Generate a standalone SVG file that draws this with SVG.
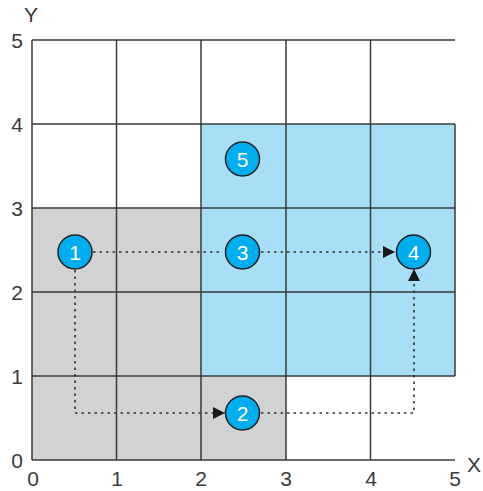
<svg xmlns="http://www.w3.org/2000/svg" width="483" height="491" viewBox="0 0 483 491">
<defs>
<style>
.grid{stroke:#3a3a3a;stroke-width:1.5;fill:none}
.lbl{font-family:"Liberation Sans",Arial,sans-serif;font-size:21px;fill:#3a3a3a;text-anchor:middle}
.node circle{fill:#00aeef;stroke:#222;stroke-width:1.5}
.node text{font-family:"Liberation Sans",Arial,sans-serif;font-size:21px;fill:#fff;text-anchor:middle}
.conn{stroke:#333;stroke-width:1.6;fill:none;stroke-dasharray:2.5 4}
</style>
<marker id="arr" viewBox="0 0 10 10" refX="10" refY="5" markerWidth="12" markerHeight="12" markerUnits="userSpaceOnUse" orient="auto">
<path d="M0,0 L10,5 L0,10 Z" fill="#1a1a1a"/>
</marker>
</defs>
<rect width="483" height="491" fill="#fff"/>
<g id="regions">
<path d="M32,460 H286 V376 H201 V208 H32 Z" fill="#d1d2d4"/>
<rect x="201" y="124" width="254" height="252" fill="#a9def7"/>
</g>
<g id="grid" class="grid">
<path d="M32,40 H455 M32,124 H455 M32,208 H455 M32,292 H455 M32,376 H455 M32,460 H455"/>
<path d="M32,40 V460 M116.5,40 V460 M201,40 V460 M286,40 V460 M370.5,40 V460 M455,124 V376"/>
</g>
<g id="axis-labels">
<text class="lbl" x="31" y="22">Y</text>
<text class="lbl" x="474" y="472">X</text>
<text class="lbl" x="17" y="48">5</text>
<text class="lbl" x="17" y="132">4</text>
<text class="lbl" x="17" y="216">3</text>
<text class="lbl" x="17" y="300">2</text>
<text class="lbl" x="17" y="384">1</text>
<text class="lbl" x="17" y="468">0</text>
<text class="lbl" x="33" y="486">0</text>
<text class="lbl" x="117" y="486">1</text>
<text class="lbl" x="201" y="486">2</text>
<text class="lbl" x="286" y="486">3</text>
<text class="lbl" x="371" y="486">4</text>
<text class="lbl" x="455" y="486">5</text>
</g>
<g id="connectors">
<path class="conn" d="M93,252 H223"/>
<path class="conn" d="M261,252 H395" marker-end="url(#arr)"/>
<path class="conn" d="M75,270 V413 H225" marker-end="url(#arr)"/>
<path class="conn" d="M261,413 H414 V269" marker-end="url(#arr)"/>
</g>
<g id="node1" class="node"><circle cx="75" cy="252" r="17"/><text x="75" y="260">1</text></g>
<g id="node2" class="node"><circle cx="242.5" cy="413" r="17"/><text x="242.5" y="421">2</text></g>
<g id="node3" class="node"><circle cx="242.5" cy="252" r="17"/><text x="242.5" y="260">3</text></g>
<g id="node4" class="node"><circle cx="413.5" cy="252" r="17"/><text x="413.5" y="260">4</text></g>
<g id="node5" class="node"><circle cx="242.5" cy="159" r="17"/><text x="242.5" y="167">5</text></g>
</svg>
